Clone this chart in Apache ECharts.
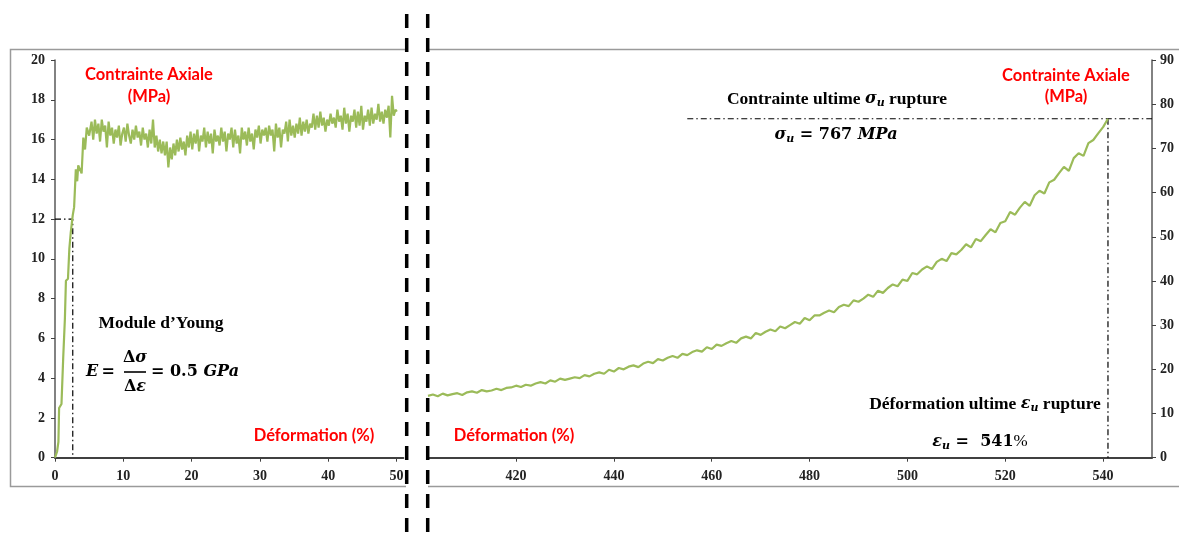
<!DOCTYPE html>
<html><head><meta charset="utf-8">
<script src="https://cdn.jsdelivr.net/npm/echarts@6/dist/echarts.min.js"></script>
<style>html,body{margin:0;padding:0;background:#fff}#c{width:1179px;height:540px}</style>
</head><body><div id="c"></div>
<script>
// ---------- DATA ----------
const leftStrain = [0,0.3,0.5,0.6,0.95,1.2,1.45,1.6,1.9,2.1,2.3,2.6,2.8,3.05,3.25,3.4,3.65,3.9,4.15,4.4,4.65,5.0,5.35,5.6,
 5.85,6.1,6.35,6.6,6.85,7.1,7.35,7.6,7.85,
 8.1,8.35,8.6,8.85,9.1,9.35,9.6,9.85,
 10.1,10.35,10.6,10.85,11.1,11.35,11.6,11.85,
 12.1,12.35,12.6,12.85,13.1,13.35,13.6,13.85,
 14.1,14.35,14.6,14.85,15.1,15.35,15.6,15.85,
 16.1,16.35,16.6,16.85,17.1,17.35,17.6,17.85,
 18.1,18.35,18.6,18.85,19.1,19.35,19.6,19.85,
 20.1,20.35,20.6,20.85,21.1,21.35,21.6,21.85,
 22.1,22.35,22.6,22.85,23.1,23.35,23.6,23.85,
 24.1,24.35,24.6,24.85,25.1,25.35,25.6,25.85,
 26.1,26.35,26.6,26.85,27.1,27.35,27.6,27.85,
 28.1,28.35,28.6,28.85,29.1,29.35,29.6,29.85,
 30.1,30.35,30.6,30.85,31.1,31.35,31.6,31.85,
 32.1,32.35,32.6,32.85,33.1,33.35,33.6,33.85,
 34.1,34.35,34.6,34.85,35.1,35.35,35.6,35.85,
 36.1,36.35,36.6,36.85,37.1,37.35,37.6,37.85,
 38.1,38.35,38.6,38.85,39.1,39.35,39.6,39.85,
 40.1,40.35,40.6,40.85,41.1,41.35,41.6,41.85,
 42.1,42.35,42.6,42.85,43.1,43.35,43.6,43.85,
 44.1,44.35,44.6,44.85,45.1,45.35,45.6,45.85,
 46.1,46.35,46.6,46.85,47.1,47.35,47.6,47.85,
 48.1,48.35,48.6,48.85,49.1,49.35,49.6,49.85,
 50.05];
const leftStress = [0,0.3,0.8,2.5,2.7,5.0,7.0,8.9,9.0,10.5,11.3,12.2,12.6,14.5,13.9,14.7,14.8,14.3,16.1,15.5,16.6,16.2,16.9,16.0,
 17.0,16.3,16.8,15.9,17.0,16.4,16.7,15.6,16.9,
 16.2,16.6,15.8,16.5,16.1,16.7,15.7,16.3,
 16.6,15.9,16.8,16.2,15.8,16.5,16.0,16.7,
 16.1,16.4,15.7,16.6,16.0,16.3,15.6,16.5,
 15.8,17.0,15.6,16.2,15.4,16.0,15.3,15.9,
 15.2,15.9,14.6,15.6,15.0,15.8,15.2,16.0,
 15.4,16.1,15.5,15.9,15.2,16.2,15.6,16.4,
 15.5,16.3,15.8,16.5,15.4,16.2,15.9,16.6,
 15.6,16.4,15.8,16.3,15.3,16.5,15.9,16.2,
 15.7,16.6,15.9,16.4,15.4,16.3,16.0,16.6,
 15.6,16.5,15.8,16.2,15.3,16.6,16.0,16.4,
 15.7,16.6,15.9,16.3,15.5,16.5,16.1,16.7,
 15.8,16.5,16.2,16.6,15.9,16.7,16.2,16.5,
 15.4,16.8,16.1,16.6,15.6,16.5,16.3,16.9,
 15.9,17.0,16.2,16.7,16.1,16.8,16.3,17.1,
 16.2,16.9,16.4,17.0,16.3,16.8,16.6,17.3,
 16.5,17.2,16.6,17.4,16.7,17.1,16.4,17.0,
 16.7,17.3,16.8,17.1,16.6,17.5,16.9,17.2,
 16.5,17.6,16.8,17.3,16.4,17.2,16.9,17.5,
 16.6,17.4,16.7,17.7,16.5,17.2,16.9,17.5,
 16.7,17.6,16.8,17.3,17.0,17.8,16.9,17.4,
 16.8,17.5,17.1,17.7,16.1,18.2,17.2,17.5,
 17.4];
const rightStrain = [402,403,404,405,406,407,408,409,410,411,412,413,414,415,416,417,418,419,420,421,422,423,424,425,426,427,428,429,430,431,432,433,434,435,436,437,438,439,440,441,442,443,444,445,446,447,448,449,450,451,452,453,454,455,456,457,458,459,460,461,462,463,464,465,466,467,468,469,470,471,472,473,474,475,476,477,478,479,480,481,482,483,484,485,486,487,488,489,490,491,492,493,494,495,496,497,498,499,500,501,502,503,504,505,506,507,508,509,510,511,512,513,514,515,516,517,518,519,520,521,522,523,524,525,526,527,528,529,530,531,532,533,534,535,536,537,538,539,540,541];
const rightStress = [
 14.0,14.3,13.9,14.5,14.1,14.4,14.6,14.2,14.8,15.0,14.7,15.3,15.0,15.2,15.6,15.3,15.8,15.9,16.3,16.0,
 16.5,16.3,16.8,17.1,16.8,17.5,17.2,17.9,17.6,17.9,18.2,18.0,18.7,18.4,19.0,19.3,19.0,19.9,19.5,20.3,
 20.0,20.6,20.9,20.5,21.3,21.7,21.4,22.3,22.0,22.6,23.0,22.6,23.5,23.2,23.9,24.3,24.0,25.0,24.6,25.6,
 25.3,25.9,26.4,26.0,27.0,27.4,27.0,28.2,27.8,28.5,29.0,28.6,29.7,29.3,30.0,30.7,30.3,31.6,31.1,32.2,
 32.2,32.8,33.3,32.9,34.1,34.6,34.3,35.6,35.3,36.0,36.9,36.4,37.8,37.3,38.4,39.2,38.8,40.3,40.0,41.8,
 41.5,42.6,43.3,42.7,44.3,45.0,44.5,46.3,46.0,47.0,48.3,47.6,49.5,49.0,50.4,51.7,51.0,53.1,53.5,55.6,
 55.0,56.6,57.9,57.0,59.4,60.4,59.8,62.3,62.9,64.4,65.8,64.9,67.8,68.9,68.3,71.2,71.9,73.4,74.8,76.7];
const leftXTicks = [0,10,20,30,40,50];
const rightXTicks = [420,440,460,480,500,520,540];
const youngPoint = [2.6, 12];        // strain, stress
const rupturePoint = [541, 76.7];    // strain, stress
const ruptureLineStart = 455;

// ---------- CHART ----------
const zip = (a, b) => a.map((v, i) => [v, b[i]]);
const GREEN = '#9BBB59', RED = '#FF0000';
const axisLbl = {fontFamily:'Liberation Serif', fontWeight:'bold', fontSize:14, color:'#222'};
const dashDot = {color:'#000', width:1.2, type:[6,3,1.5,3]};
const T = 'Liberation Serif', M = 'DejaVu Serif';
const mathRich = {
  i:{fontFamily:M, fontStyle:'italic', fontWeight:'bold', fontSize:16, fill:'#000'},
  n:{fontFamily:M, fontWeight:'bold', fontSize:16, fill:'#000'},
  s:{fontFamily:M, fontStyle:'italic', fontWeight:'bold', fontSize:11, fill:'#000', padding:[9,0,0,0]},
  t:{fontFamily:T, fontWeight:'bold', fontSize:17.5, fill:'#000'},
  r:{fontFamily:T, fontSize:17, fill:'#000'}
};
function txt(x, y, text, font, fill, align) {
  return {type:'text', x:x, y:y, z:100, style:{text:text, font:font, fill:fill,
    align:align||'center', verticalAlign:'middle', textAlign:align||'center', textVerticalAlign:'middle'}};
}
function rtxt(x, y, text, align) {
  return {type:'text', x:x, y:y, z:100, style:{text:text, rich:mathRich, fill:'#000',
    align:align||'center', verticalAlign:'middle', textAlign:align||'center', textVerticalAlign:'middle'}};
}
const redFont = 'bold 16.5px Lato';

const chart = echarts.init(document.getElementById('c'));
chart.setOption({
  animation:false,
  backgroundColor:'#fff',
  grid:[
    {left:55, top:60, width:348.3, height:397.7},
    {left:428, top:60, right:27, height:397.7}
  ],
  xAxis:[
    {type:'value', gridIndex:0, min:0, max:51,
     axisLine:{lineStyle:{color:'#404040', width:2}},
     axisTick:{show:true, length:4, lineStyle:{color:'#404040'}, customValues:leftXTicks},
     axisLabel:Object.assign({margin:12, customValues:leftXTicks}, axisLbl),
     splitLine:{show:false}},
    {type:'value', gridIndex:1, min:402, max:550,
     axisLine:{lineStyle:{color:'#404040', width:2}},
     axisTick:{show:true, length:4, lineStyle:{color:'#404040'}, customValues:rightXTicks},
     axisLabel:Object.assign({margin:12, customValues:rightXTicks}, axisLbl),
     splitLine:{show:false}}
  ],
  yAxis:[
    {type:'value', gridIndex:0, min:0, max:20, interval:2, position:'left',
     axisLine:{show:true, lineStyle:{color:'#595959', width:1.5}},
     axisTick:{show:true, length:4, lineStyle:{color:'#404040'}},
     axisLabel:Object.assign({margin:10}, axisLbl),
     splitLine:{show:false}},
    {type:'value', gridIndex:1, min:0, max:90, interval:10, position:'right',
     axisLine:{show:true, lineStyle:{color:'#595959', width:1.5}},
     axisTick:{show:true, length:4, lineStyle:{color:'#404040'}},
     axisLabel:Object.assign({margin:8}, axisLbl),
     splitLine:{show:false}}
  ],
  series:[
    {type:'line', xAxisIndex:0, yAxisIndex:0, data:zip(leftStrain, leftStress), showSymbol:false,
     symbol:'none', lineStyle:{color:GREEN, width:2.2}, z:3},
    {type:'line', xAxisIndex:0, yAxisIndex:0, symbol:'none', lineStyle:dashDot, z:2,
     data:[[0, youngPoint[1]], youngPoint, [youngPoint[0], 0]]},
    {type:'line', xAxisIndex:1, yAxisIndex:1, data:zip(rightStrain, rightStress), showSymbol:false,
     symbol:'none', lineStyle:{color:GREEN, width:2.2}, z:3},
    {type:'line', xAxisIndex:1, yAxisIndex:1, symbol:'none', lineStyle:dashDot, z:2,
     data:[[ruptureLineStart, rupturePoint[1]], [550, rupturePoint[1]]]},
    {type:'line', xAxisIndex:1, yAxisIndex:1, symbol:'none', lineStyle:dashDot, z:2,
     data:[rupturePoint, [rupturePoint[0], 0]]}
  ],
  graphic:[
    // frame
    {type:'polyline', z:1, shape:{points:[[406,49.5],[10.5,49.5],[10.5,486.5],[406,486.5]]}, style:{stroke:'#9a9a9a', lineWidth:1.5, fill:null}},
    {type:'line', z:1, shape:{x1:428, y1:49.5, x2:1179, y2:49.5}, style:{stroke:'#9a9a9a', lineWidth:1.5}},
    {type:'line', z:1, shape:{x1:428, y1:486.5, x2:1179, y2:486.5}, style:{stroke:'#9a9a9a', lineWidth:1.5}},
    // break lines
    {type:'line', z:200, shape:{x1:406.7, y1:14, x2:406.7, y2:540}, style:{stroke:'#000', lineWidth:3.5, lineDash:[14,10]}},
    {type:'line', z:200, shape:{x1:427.7, y1:14, x2:427.7, y2:540}, style:{stroke:'#000', lineWidth:3.5, lineDash:[14,10]}},
    // left annotations
    txt(149, 75, 'Contrainte Axiale', redFont, RED),
    txt(149, 97, '(MPa)', redFont, RED),
    txt(314, 436, 'Déformation (%)', redFont, RED),
    txt(161, 323, 'Module d\u2019Young', 'bold 17.5px "Liberation Serif"', '#000'),
    rtxt(86, 372, '{i|E} {n|=}', 'left'),
    rtxt(135, 358, '{n|Δ}{i|σ}'),
    {type:'line', z:100, shape:{x1:124, y1:372, x2:146, y2:372}, style:{stroke:'#000', lineWidth:1.6}},
    rtxt(135, 387, '{n|Δ}{i|ε}'),
    rtxt(151, 372, '{n|= 0.5 }{i|GPa}', 'left'),
    // right annotations
    txt(1066, 76, 'Contrainte Axiale', redFont, RED),
    txt(1066, 97, '(MPa)', redFont, RED),
    txt(514, 436, 'Déformation (%)', redFont, RED),
    rtxt(837, 99, '{t|Contrainte ultime }{i|σ}{s|u}{t| rupture}'),
    rtxt(836, 135, '{i|σ}{s|u}{n| = 767 }{i|MPa}'),
    rtxt(985, 404, '{t|Déformation ultime }{i|ε}{s|u}{t| rupture}'),
    rtxt(980, 442, '{i|ε}{s|u}{n| =  541}{r|%}')
  ]
});
</script></body></html>
